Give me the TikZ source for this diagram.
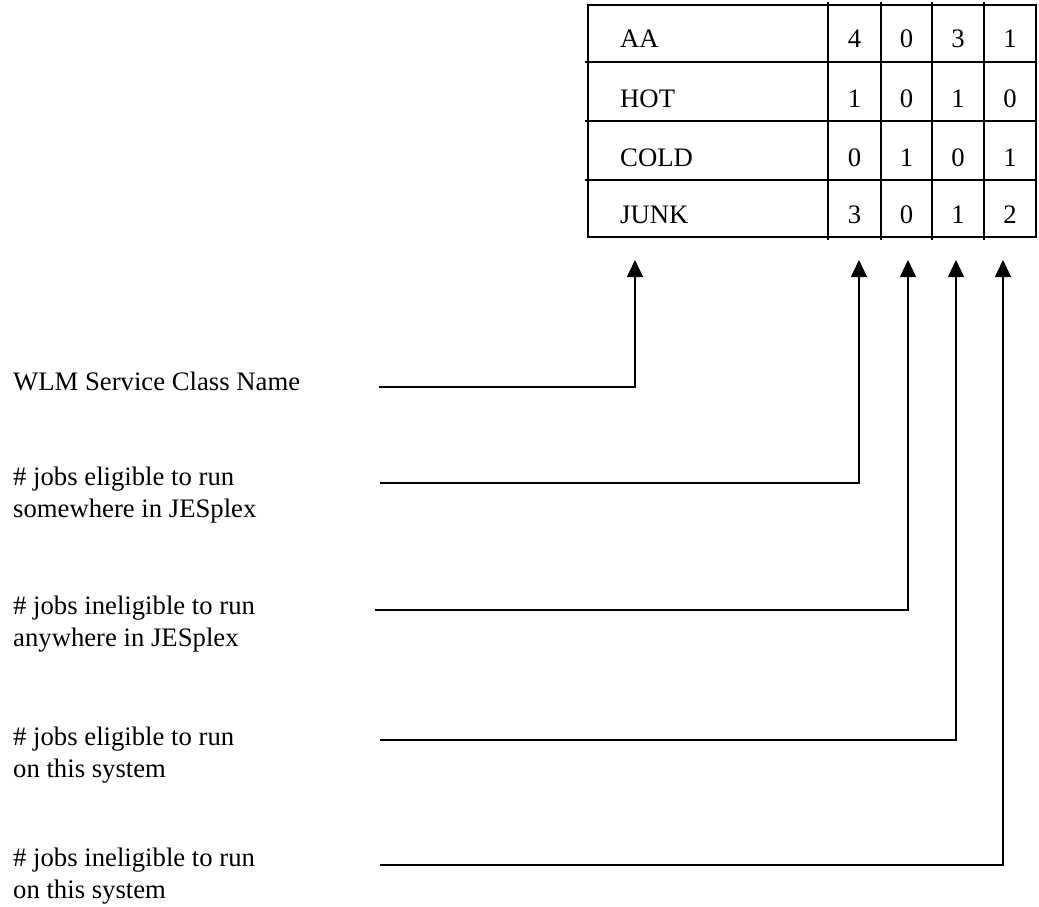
\documentclass[tikz,border=0pt]{standalone}
\usepackage{fontspec}
\setmainfont{Liberation Serif}
\usetikzlibrary{arrows.meta}
\begin{document}
\begin{tikzpicture}[x=1pt,y=-1pt,
  grid/.style={line width=1.6pt},
  conn/.style={line width=1.6pt,-{Triangle[length=17pt,width=16pt]}},
  lbl/.style={anchor=base west,inner sep=0pt,align=left,font=\fontsize{26.7}{32}\selectfont},
  cell/.style={anchor=base,inner sep=0pt,font=\fontsize{26.7}{32}\selectfont},
  rowname/.style={anchor=base west,inner sep=0pt,font=\fontsize{26.7}{32}\selectfont}]
\useasboundingbox (0,0) rectangle (1039,907);
% table
\draw[grid] (588,5) rectangle (1036,237);
\foreach \y in {62,121,180} \draw[grid] (585,\y) -- (1036,\y);
\foreach \x in {828,881,932,984} \draw[grid] (\x,2) -- (\x,240);
% row names
\node[rowname] (rAA) at (620,48) {AA};
\node[rowname] (rHOT) at (620,107) {HOT};
\node[rowname] (rCOLD) at (620,166) {COLD};
\node[rowname] (rJUNK) at (620,223) {JUNK};
% values
\foreach \r/\y/\a/\b/\c/\d in {1/48/4/0/3/1, 2/107/1/0/1/0, 3/166/0/1/0/1, 4/223/3/0/1/2}{
  \node[cell] (v\r a) at (854.5,\y) {\a};
  \node[cell] (v\r b) at (906.5,\y) {\b};
  \node[cell] (v\r c) at (958,\y) {\c};
  \node[cell] (v\r d) at (1010,\y) {\d};
}
% arrow tips
\coordinate (t0) at (635,260);
\coordinate (t1) at (859,260);
\coordinate (t2) at (908,260);
\coordinate (t3) at (956,260);
\coordinate (t4) at (1003,260);
% labels (anchor = baseline of last line)
\node[lbl] (l0) at (13,390) {WLM Service Class Name};
\node[lbl] (l1) at (13,517) {\# jobs eligible to run\\somewhere in JESplex};
\node[lbl] (l2) at (13,646) {\# jobs ineligible to run\\anywhere in JESplex};
\node[lbl] (l3) at (13,777) {\# jobs eligible to run\\on this system};
\node[lbl] (l4) at (13,898) {\# jobs ineligible to run\\on this system};
% line starts
\coordinate (s0) at (379,387);
\coordinate (s1) at (380,483);
\coordinate (s2) at (375,610);
\coordinate (s3) at (380,740);
\coordinate (s4) at (380,865);
\foreach \i in {0,...,4} \draw[conn] (s\i) -| (t\i);
\end{tikzpicture}
\end{document}
